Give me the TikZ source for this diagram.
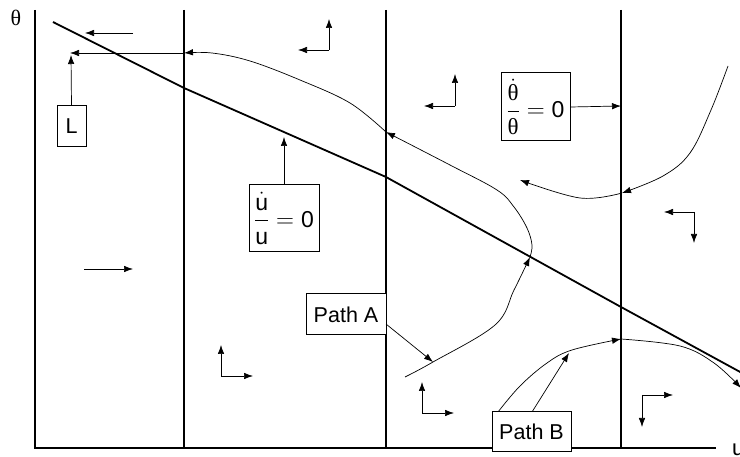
\documentclass[tikz,border=0pt]{standalone}
\usepackage{amsmath}
\usepackage{fontspec}
\setmainfont{Liberation Sans}
\newfontfamily\grk{Liberation Serif}
\usetikzlibrary{arrows.meta}
\begin{document}
\begin{tikzpicture}[x=1pt,y=-1pt,
  axisline/.style={line width=1.3pt},
  locus/.style={line width=1.8pt},
  thincurve/.style={line width=0.7pt},
  tarr/.style={thincurve,-{Latex[length=9pt,width=6.5pt]}},
  labelbox/.style={draw,fill=white,line width=1pt,inner sep=0pt,font=\fontsize{21.5}{24}\selectfont},
  fracbox/.style={labelbox,font=\fontsize{23}{26}\selectfont},
  axlabel/.style={inner sep=0pt,font=\fontsize{22}{26}\selectfont}]
\useasboundingbox (0,0) rectangle (740,457);
% axes
\coordinate (Ytop) at (35,10);
\coordinate (O) at (35,448);
\coordinate (Xend) at (716,448);
\draw[axisline] (Ytop) -- (O) -- (Xend);
\node[axlabel] (th) at (16,18) {\grk θ};
\node[axlabel,anchor=west] (uu) at (732,450) {u};
% vertical lines
\foreach \x/\n in {184/a,386/b,621/c}{
  \coordinate (V\n t) at (\x,10);
  \coordinate (V\n b) at (\x,448);
  \draw[axisline] (V\n t) -- (V\n b);
}
% locus u dot / u = 0
\coordinate (K0) at (53,22);
\coordinate (K1) at (184,88);
\coordinate (K2) at (386,177);
\coordinate (K3) at (621,307);
\coordinate (K4) at (742,373);
\draw[locus] (K0) -- (K1) -- (K2) -- (K3) -- (K4);
% Path A
\coordinate (A0) at (405,377);
\coordinate (A1) at (530,257);
\coordinate (A2) at (386,132);
\coordinate (A3) at (184,53);
\coordinate (A4) at (70,53);
\draw[tarr] plot[smooth,tension=0.6] coordinates {(A0) (433,362) (495,325) (514,290) (A1)};
\draw[tarr] plot[smooth,tension=0.6] coordinates {(A1) (532,245) (527,228) (514,207) (497,190) (450,165) (A2)};
\draw[tarr] plot[smooth,tension=0.6] coordinates {(A2) (350,103) (300,80) (250,61) (212,53) (A3)};
\draw[tarr] (A3) -- (A4);
% Path B
\coordinate (B0) at (498,412);
\coordinate (B1) at (621,339);
\coordinate (B2) at (741,388);
\draw[tarr] plot[smooth,tension=0.6] coordinates {(B0) (520,386) (547,363) (572,350) (B1)};
\draw[tarr] plot[smooth,tension=0.6] coordinates {(B1) (680,346) (714,363) (B2)};
\coordinate (B3) at (532,412);
\coordinate (B4) at (569,353);
\draw[tarr] (B3) -- (B4);
% right upper curve
\coordinate (C0) at (728,66);
\coordinate (C1) at (622,193);
\coordinate (C2) at (520,180);
\draw[tarr] plot[smooth,tension=0.6] coordinates {(C0) (711,110) (690,153) (663,176) (C1)};
\draw[tarr] plot[smooth,tension=0.6] coordinates {(C1) (580,198) (C2)};
% label boxes
\node[labelbox,minimum width=29pt,minimum height=41pt] (L) at (71.5,126.5) {L};
\node[fracbox,minimum width=70pt,minimum height=67pt] (U) at (284,218.5)
  {$\dfrac{\dot{\mathrm{u}}}{\mathrm{u}} = \mathrm{0}$};
\node[fracbox,minimum width=69pt,minimum height=68pt] (T) at (535.5,107)
  {$\dfrac{\dot{\hbox{\grk θ}}}{\hbox{\grk θ}} = \mathrm{0}$};
\node[labelbox,minimum width=80pt,minimum height=41pt] (PA) at (346,314.5) {Path A};
\node[labelbox,minimum width=79pt,minimum height=40pt] (PB) at (531.5,432) {Path B};
\coordinate (Ltip) at (71,55);
\draw[tarr] (L.north) -- (Ltip);
\coordinate (Utip) at (284,137);
\draw[tarr] (U.north) -- (Utip);
\coordinate (Ttip) at (621,106);
\draw[tarr] (T.east) -- (Ttip);
\coordinate (PAs) at (386,324);
\coordinate (PAtip) at (433,362);
\draw[tarr] (PAs) -- (PAtip);
% direction arrows
\coordinate (d1s) at (133,33); \coordinate (d1e) at (85,33);
\draw[tarr] (d1s) -- (d1e);
\coordinate (d2s) at (84,269); \coordinate (d2e) at (133,269);
\draw[tarr] (d2s) -- (d2e);
\foreach \n/\cx/\cy/\ax/\ay/\bx/\by in {
  e/329/50/329/19/298/50,
  f/221/376/221/345/253/376,
  g/455/106/455/74/424/106,
  h/422/413/422/382/454/413,
  i/694/212/664/212/694/243,
  j/642/395/673/395/642/427}{
  \coordinate (\n c) at (\cx,\cy);
  \coordinate (\n a) at (\ax,\ay);
  \coordinate (\n b) at (\bx,\by);
  \draw[tarr] (\n c) -- (\n a);
  \draw[tarr] (\n c) -- (\n b);
}
\end{tikzpicture}
\end{document}
